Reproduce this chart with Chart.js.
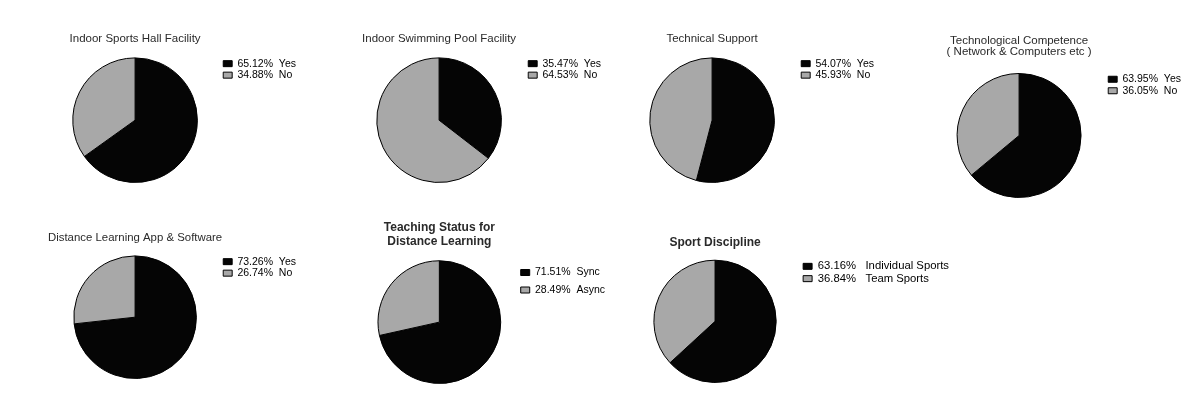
<!DOCTYPE html>
<html>
<head>
<meta charset="utf-8">
<script src="https://cdn.jsdelivr.net/npm/chart.js@4"></script>
<style>
  body { margin: 0; background: #fff; }
  #wrap { position: relative; width: 1198px; height: 405px; overflow: hidden; }
  #wrap canvas { position: absolute; }
</style>
</head>
<body>
<div id="wrap"></div>
<script>
// answers in percent, first value is the dark slice
const yesNo = ['Yes', 'No'];
const sportsHall = [65.12, 34.88];
const swimmingPool = [35.47, 64.53];
const technicalSupport = [54.07, 45.93];
const techCompetence = [63.95, 36.05];
const learningApp = [73.26, 26.74];
const teachingModes = ['Sync', 'Async'];
const teachingStatus = [71.51, 28.49];
const disciplines = ['Individual Sports', 'Team Sports'];
const sportDiscipline = [63.16, 36.84];

const sliceColors = ['#050505', '#a8a8a8'];

// cx, cy, r = pie centre/radius, lx = legend box x, ty = first title line centre
const panels = [
  { title: 'Indoor Sports Hall Facility', labels: yesNo, values: sportsHall,
    cx: 135, cy: 120, r: 62, lx: 223, ty: 39, bold: false, gap: 1 },
  { title: 'Indoor Swimming Pool Facility', labels: yesNo, values: swimmingPool,
    cx: 439, cy: 120, r: 62, lx: 528, ty: 39, bold: false, gap: 1 },
  { title: 'Technical Support', labels: yesNo, values: technicalSupport,
    cx: 712, cy: 120, r: 62, lx: 801, ty: 39, bold: false, gap: 1 },
  { title: ['Technological Competence', '( Network & Computers etc )'], labels: yesNo, values: techCompetence,
    cx: 1019, cy: 135, r: 62, lx: 1108, ty: 40, bold: false, gap: 1, lh: 11 },
  { title: 'Distance Learning App & Software', labels: yesNo, values: learningApp,
    cx: 135, cy: 317, r: 61, lx: 223, ty: 238, bold: false, gap: 1 },
  { title: ['Teaching Status for', 'Distance Learning'], labels: teachingModes, values: teachingStatus,
    cx: 439, cy: 322, r: 61, lx: 520, ty: 227.5, bold: true, gap: 7, lh: 14.5 },
  { title: 'Sport Discipline', labels: disciplines, values: sportDiscipline,
    cx: 715, cy: 321, r: 61, lx: 803, ty: 242, bold: true, gap: 1, legendSize: 11.3, spacer: '   ' }
];

const wrap = document.getElementById('wrap');
const fontFamily = 'Liberation Sans, Arial, sans-serif';

function makePie(p, width) {
  const size = p.bold ? 12 : 11.5;
  const lh = p.lh || size * 1.2;
  const lines = Array.isArray(p.title) ? p.title.length : 1;
  const top = p.ty - lh / 2;
  const caTop = p.cy - p.r - 0.5;
  const half = p.lx - p.gap - p.cx;
  const spacer = p.spacer || '  ';

  const canvas = document.createElement('canvas');
  canvas.width = width;
  canvas.height = Math.ceil(caTop - top + 2 * p.r + 1 + 3);
  canvas.style.left = (p.cx - half) + 'px';
  canvas.style.top = top + 'px';
  wrap.appendChild(canvas);

  return new Chart(canvas, {
    type: 'pie',
    data: {
      labels: p.labels,
      datasets: [{
        data: p.values,
        backgroundColor: sliceColors,
        borderColor: '#000',
        borderWidth: 1
      }]
    },
    options: {
      responsive: false,
      maintainAspectRatio: false,
      animation: false,
      events: [],
      layout: { padding: { left: 0, top: 0, right: 4, bottom: 3 } },
      plugins: {
        tooltip: { enabled: false },
        title: {
          display: true,
          text: p.title,
          fullSize: false,
          color: '#2a2a2a',
          font: { family: fontFamily, size: size,
                  weight: p.bold ? 'bold' : 'normal', lineHeight: lh + 'px' },
          padding: { top: 0, bottom: caTop - top - lines * lh }
        },
        legend: {
          position: 'right',
          align: 'start',
          fullSize: false,
          labels: {
            boxWidth: 9,
            boxHeight: 6,
            padding: p.gap,
            color: '#333',
            font: { family: fontFamily, size: p.legendSize || 10.5 },
            generateLabels(chart) {
              const ds = chart.data.datasets[0];
              return chart.data.labels.map((lab, i) => ({
                text: ds.data[i].toFixed(2) + '%' + spacer + lab,
                fillStyle: ds.backgroundColor[i],
                strokeStyle: '#000',
                lineWidth: 1,
                hidden: false,
                index: i
              }));
            }
          }
        }
      }
    }
  });
}

panels.forEach(p => {
  // first pass only measures the legend, so the pie area can be sized exactly
  const probe = makePie(p, 600);
  const legendWidth = probe.legend.width;
  const probeCanvas = probe.canvas;
  probe.destroy();
  probeCanvas.remove();

  const half = p.lx - p.gap - p.cx;
  makePie(p, Math.ceil(2 * half + legendWidth + 4));
});
</script>
</body>
</html>
